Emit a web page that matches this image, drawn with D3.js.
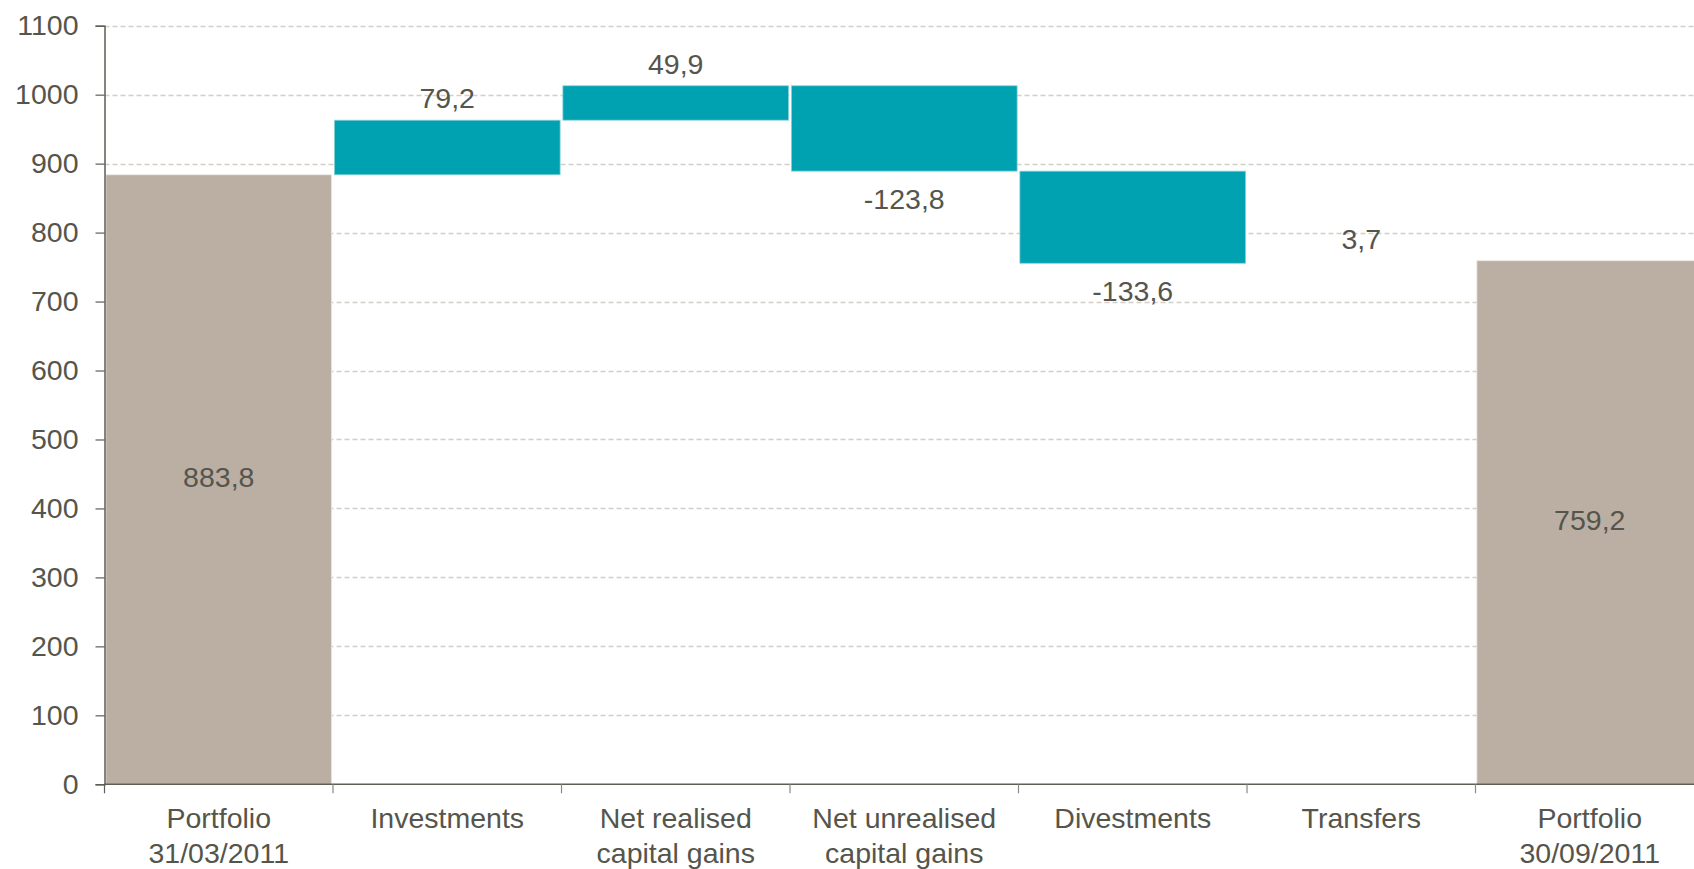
<!DOCTYPE html>
<html>
<head>
<meta charset="utf-8">
<script src="https://cdn.jsdelivr.net/npm/d3@7"></script>
<style>
  html, body { margin: 0; padding: 0; background: #ffffff; }
  svg { display: block; font-family: Arial, "Liberation Sans", sans-serif; }
</style>
</head>
<body>
<svg id="chart" width="1694" height="869"></svg>
<script>
// ---- data ----
const categories = [
  ["Portfolio", "31/03/2011"],
  ["Investments"],
  ["Net realised", "capital gains"],
  ["Net unrealised", "capital gains"],
  ["Divestments"],
  ["Transfers"],
  ["Portfolio", "30/09/2011"]
];
const values = [883.8, 79.2, 49.9, -123.8, -133.6, 3.7, 759.2];
const kinds = ["total", "delta", "delta", "delta", "delta", "delta", "total"];
// the Transfers bar is too small to be visible in the reference
const barVisible = [true, true, true, true, true, false, true];
const yTicks = [0, 100, 200, 300, 400, 500, 600, 700, 800, 900, 1000, 1100];

// ---- layout ----
const svg = d3.select("#chart");
const axisX = 104.5, plotRight = 1704, y0px = 784.3, yTopPx = 25.7;
const textColor = "#55554c";
const axisColor = "#5e5e55";
const fontSize = 28.5;

const x = d3.scaleBand()
  .domain(d3.range(categories.length))
  .range([axisX, plotRight])
  .paddingInner(0.012)
  .paddingOuter(0.006);
const step = x.step();
const y = d3.scaleLinear().domain([0, 1100]).range([y0px, yTopPx]);

// waterfall geometry
let running = 0;
const bars = values.map((v, i) => {
  let lo, hi;
  if (kinds[i] === "total") { lo = 0; hi = v; running = v; }
  else { lo = Math.min(running, running + v); hi = Math.max(running, running + v); running += v; }
  return { i, v, lo, hi, kind: kinds[i] };
});

const fmt = v => d3.format(".1f")(v).replace(".", ",").replace("\u2212", "-");

// grid lines
svg.append("g").selectAll("line").data(yTicks.filter(t => t > 0)).join("line")
  .attr("x1", axisX).attr("x2", 1694)
  .attr("y1", d => Math.round(y(d)) + 0.5).attr("y2", d => Math.round(y(d)) + 0.5)
  .attr("stroke", "#d3cec8").attr("stroke-width", 1.4)
  .attr("stroke-dasharray", "5,3");

// bars
svg.append("g").selectAll("rect").data(bars.filter(b => barVisible[b.i])).join("rect")
  .attr("x", d => x(d.i))
  .attr("width", x.bandwidth())
  .attr("y", d => y(d.hi))
  .attr("height", d => y(d.lo) - y(d.hi))
  .attr("fill", d => d.kind === "total" ? "#bbaea3" : "#00a1b0")
  .attr("stroke", d => d.kind === "total" ? "#ece7e2" : "#8fd3da")
  .attr("stroke-width", 0.8);

// y axis
const yAxis = d3.axisLeft(y).tickValues(yTicks).tickSize(9).tickPadding(17).tickFormat(d3.format("d"));
const gy = svg.append("g").attr("transform", `translate(${axisX},0)`).call(yAxis);
gy.select(".domain").attr("stroke", axisColor).attr("stroke-width", 1.5);
gy.selectAll(".tick line").attr("stroke", axisColor).attr("stroke-width", 1.2);
gy.selectAll(".tick text").attr("fill", textColor).attr("font-size", fontSize)
  .attr("font-family", "Arial, 'Liberation Sans', sans-serif");

// x axis line and ticks at band boundaries
const boundaries = d3.range(categories.length + 1).map(k => axisX + k * step);
svg.append("line").attr("x1", axisX).attr("x2", 1694)
  .attr("y1", y0px).attr("y2", y0px)
  .attr("stroke", axisColor).attr("stroke-width", 1.5);
svg.append("g").selectAll("line").data(boundaries).join("line")
  .attr("x1", d => d).attr("x2", d => d)
  .attr("y1", y0px).attr("y2", y0px + 9)
  .attr("stroke", (d, k) => k === 0 ? axisColor : "#8a8a82").attr("stroke-width", 1.2);

// category labels
const catG = svg.append("g");
categories.forEach((lines, i) => {
  const t = catG.append("text")
    .attr("x", x(i) + x.bandwidth() / 2)
    .attr("y", y0px + 44)
    .attr("text-anchor", "middle")
    .attr("fill", textColor)
    .attr("font-size", fontSize);
  lines.forEach((ln, k) => {
    t.append("tspan").attr("x", x(i) + x.bandwidth() / 2).attr("dy", k === 0 ? 0 : 34.5).text(ln);
  });
});

// value labels
svg.append("g").selectAll("text").data(bars).join("text")
  .attr("x", d => x(d.i) + x.bandwidth() / 2)
  .attr("y", d => {
    if (d.kind === "total") return (y(d.hi) + y(d.lo)) / 2;
    if (d.v >= 0) return y(d.hi) - 12;
    return y(d.lo) + 38;
  })
  .attr("dominant-baseline", d => d.kind === "total" ? "middle" : "auto")
  .attr("text-anchor", "middle")
  .attr("fill", textColor)
  .attr("font-size", fontSize)
  .text(d => fmt(d.v));
</script>
</body>
</html>
